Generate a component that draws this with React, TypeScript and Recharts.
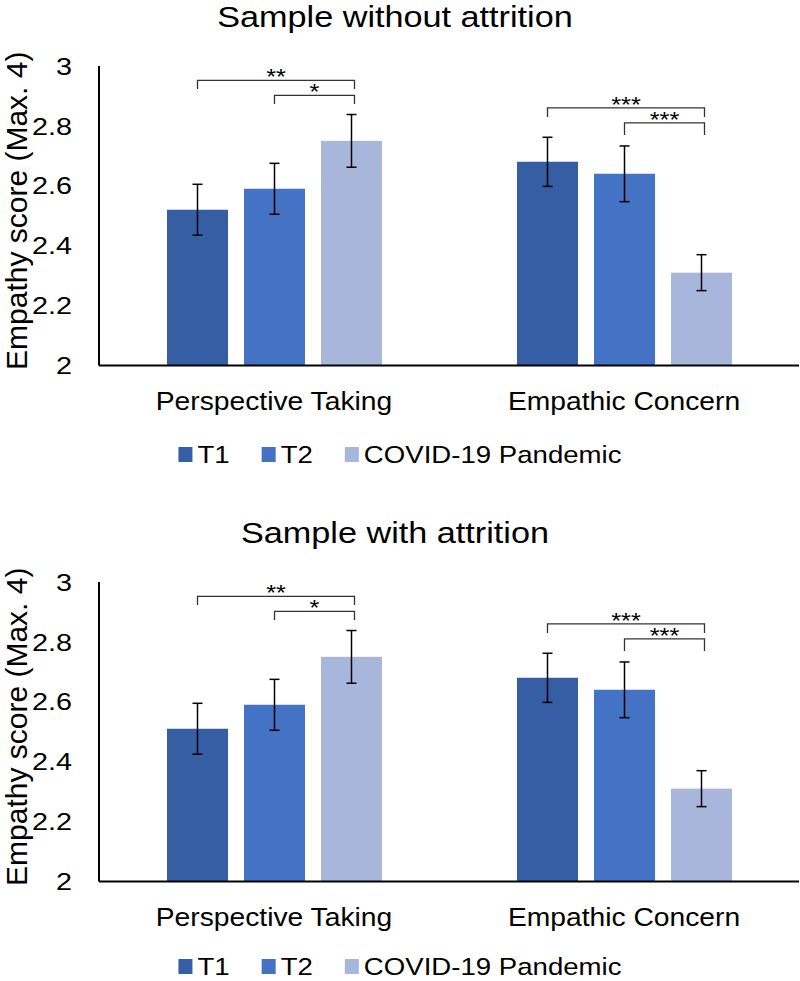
import React from 'react';
import { BarChart, Bar, XAxis, YAxis, ErrorBar, Legend, Label } from 'recharts';

const FONT = '"Liberation Sans", Arial, Helvetica, sans-serif';
const Y_MIN = 2;
const Y_MAX = 3;
const yTicks = [2, 2.2, 2.4, 2.6, 2.8, 3];
const categories = ['Perspective Taking', 'Empathic Concern'];
const seriesNames = ['T1', 'T2', 'COVID-19 Pandemic'];
const seriesColors = ['#365EA5', '#4472C4', '#A8B6DC'];

// Sample without attrition
const woT1 = [2.52, 2.68];
const woT1Err = [0.085, 0.082];
const woT2 = [2.59, 2.64];
const woT2Err = [0.085, 0.093];
const woCovid = [2.75, 2.31];
const woCovidErr = [0.088, 0.06];

// Sample with attrition
const wT1 = [2.51, 2.68];
const wT1Err = [0.085, 0.082];
const wT2 = [2.59, 2.64];
const wT2Err = [0.085, 0.093];
const wCovid = [2.75, 2.31];
const wCovidErr = [0.088, 0.06];

// significance brackets (from series index -> COVID-19 bar)
const bracketFrom = [[0, 1], [0, 1]];
const bracketLabels = [['**', '*'], ['***', '***']];
const bracketLevel = [[2.952, 2.902], [2.86, 2.81]];
const bracketEnd = [[2.923, 2.873], [2.83, 2.77]];

const BAR_SIZE = 61;
const BAR_GAP = 16;

const buildData = (t1, t1e, t2, t2e, cv, cve) =>
  categories.map((c, i) => ({
    category: c,
    t1: t1[i],
    t1Err: t1e[i],
    t2: t2[i],
    t2Err: t2e[i],
    covid: cv[i],
    covidErr: cve[i],
    brFrom: bracketFrom[i],
    brLabel: bracketLabels[i],
    brLevel: bracketLevel[i],
    brEnd: bracketEnd[i],
  }));

const dataWithout = buildData(woT1, woT1Err, woT2, woT2Err, woCovid, woCovidErr);
const dataWith = buildData(wT1, wT1Err, wT2, wT2Err, wCovid, wCovidErr);

const SText = ({ x, y, sx = 1.15, anchor = 'middle', size = 24, children, fill = '#000' }: any) => (
  <text
    transform={`translate(${x},${y}) scale(${sx},1)`}
    textAnchor={anchor}
    fontSize={size}
    fontFamily={FONT}
    fill={fill}
  >
    {children}
  </text>
);

let ctx: any = null;
const textWidth = (s: string, size: number) => {
  if (!ctx) ctx = document.createElement('canvas').getContext('2d');
  ctx.font = `${size}px "Liberation Sans", Arial, sans-serif`;
  return ctx.measureText(s).width;
};

const CovidShape = (props: any) => {
  const { x, y, width, height, fill, payload } = props;
  const base = y + height;
  const ppu = height / (payload.covid - Y_MIN);
  const py = (v: number) => base - (v - Y_MIN) * ppu;
  const step = BAR_SIZE + BAR_GAP;
  const cx = x + width / 2;
  const centers = [cx - 2 * step, cx - step, cx];
  return (
    <g>
      <rect x={x} y={y} width={width} height={height} fill={fill} />
      {payload.brFrom.map((f: number, i: number) => {
        const x1 = centers[f];
        const x2 = centers[2] + 3;
        const yl = py(payload.brLevel[i]);
        const ye = py(payload.brEnd[i]);
        return (
          <g key={i}>
            <path d={`M${x1},${ye}V${yl}H${x2}V${ye}`} fill="none" stroke="#333" strokeWidth={1.3} />
            <SText x={(x1 + x2) / 2} y={yl + 3.6} size={22}>
              {payload.brLabel[i]}
            </SText>
          </g>
        );
      })}
    </g>
  );
};

const YTick = (p: any) => (
  <SText x={p.x - 27} y={p.y + 8.6} anchor="end" size={24} sx={1.2}>
    {String(p.payload.value)}
  </SText>
);

const XTick = (p: any) => (
  <SText x={p.x} y={p.y + 44.5} size={25} sx={1.13}>
    {p.payload.value}
  </SText>
);

const YLabel = (props: any) => {
  const vb = props.viewBox || { x: 0, y: 66, width: 99, height: 300 };
  const cy = vb.y + vb.height / 2 - 5;
  return (
    <text
      transform={`translate(${vb.x + 27},${cy}) rotate(-90)`}
      textAnchor="middle"
      fontSize={30}
      fontFamily={FONT}
      fill="#000"
    >
      Empathy score (Max. 4)
    </text>
  );
};

const renderLegend = (props: any) => {
  const items = [...(props.payload || [])].sort(
    (a: any, b: any) => seriesNames.indexOf(a.value) - seriesNames.indexOf(b.value)
  );
  const size = 24;
  const sx = 1.15;
  const sq = 14;
  const pad = 5;
  const gap = 32;
  const widths = items.map((it: any) => sq + pad + textWidth(String(it.value), size) * sx);
  const total = widths.reduce((a: number, b: number) => a + b, 0) + gap * (items.length - 1);
  let cur = 400 - total / 2;
  return (
    <svg width={800} height={40} style={{ display: 'block' }}>
      {items.map((it: any, i: number) => {
        const x0 = cur;
        cur += widths[i] + gap;
        return (
          <g key={i}>
            <rect x={x0} y={7} width={sq} height={15} fill={it.color} />
            <SText x={x0 + sq + pad} y={23} anchor="start" size={size} sx={sx}>
              {it.value}
            </SText>
          </g>
        );
      })}
    </svg>
  );
};

const Panel = ({ title, data, legendTop }: any) => (
  <BarChart
    width={800}
    height={515}
    data={data}
    margin={{ top: 66, right: 1, bottom: 89.5, left: 0 }}
    barSize={BAR_SIZE}
    barGap={BAR_GAP}
  >
    <SText x={395} y={27} size={29} sx={1.18}>
      {title}
    </SText>
    <XAxis
      dataKey="category"
      axisLine={{ stroke: '#000', strokeWidth: 2 }}
      tickLine={false}
      tickSize={0}
      tickMargin={0}
      height={60}
      tick={<XTick />}
      interval={0}
    />
    <YAxis
      type="number"
      domain={[Y_MIN, Y_MAX]}
      ticks={yTicks}
      allowDataOverflow
      axisLine={{ stroke: '#000', strokeWidth: 2 }}
      tickLine={false}
      tickSize={0}
      tickMargin={0}
      width={99}
      tick={<YTick />}
    >
      <Label content={<YLabel />} />
    </YAxis>
    <Legend
      verticalAlign="middle"
      align="center"
      layout="horizontal"
      wrapperStyle={{ top: legendTop, left: 0, width: 800, height: 40 }}
      content={renderLegend}
    />
    <Bar dataKey="t1" name={seriesNames[0]} fill={seriesColors[0]} isAnimationActive={false}>
      <ErrorBar dataKey="t1Err" direction="y" width={5} stroke="#000" strokeWidth={1.5} />
    </Bar>
    <Bar dataKey="t2" name={seriesNames[1]} fill={seriesColors[1]} isAnimationActive={false}>
      <ErrorBar dataKey="t2Err" direction="y" width={5} stroke="#000" strokeWidth={1.5} />
    </Bar>
    <Bar
      dataKey="covid"
      name={seriesNames[2]}
      fill={seriesColors[2]}
      isAnimationActive={false}
      shape={<CovidShape />}
    >
      <ErrorBar dataKey="covidErr" direction="y" width={5} stroke="#000" strokeWidth={1.5} />
    </Bar>
  </BarChart>
);

export default function App() {
  return (
    <div
      style={{
        position: 'absolute',
        left: 0,
        top: 0,
        width: 800,
        height: 981,
        overflow: 'hidden',
        background: '#fff',
      }}
    >
      <div style={{ position: 'absolute', left: 0, top: 0 }}>
        <Panel title="Sample without attrition" data={dataWithout} legendTop={440} />
      </div>
      <div style={{ position: 'absolute', left: 0, top: 516 }}>
        <Panel title="Sample with attrition" data={dataWith} legendTop={436} />
      </div>
    </div>
  );
}
